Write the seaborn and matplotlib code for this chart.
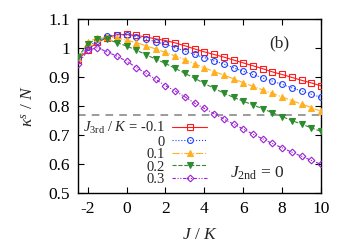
import numpy as np
import pandas as pd
import matplotlib
matplotlib.use("Agg")
import matplotlib.pyplot as plt
import seaborn as sns

# ── data ──────────────────────────────────────────────────────────────────────
j_over_k = [-2.5, -2.0, -1.5, -1.0, -0.5, 0.0, 0.5, 1.0, 1.5, 2.0, 2.5, 3.0, 3.5,
            4.0, 4.5, 5.0, 5.5, 6.0, 6.5, 7.0, 7.5, 8.0, 8.5, 9.0, 9.5, 10.0]

kappa_m01 = [0.959, 0.995, 1.020, 1.036, 1.046, 1.047, 1.044, 1.038, 1.032, 1.026,
             1.018, 1.008, 0.997, 0.987, 0.978, 0.969, 0.959, 0.949, 0.939, 0.929,
             0.918, 0.909, 0.899, 0.889, 0.880, 0.870]
kappa_0 = [0.965, 1.005, 1.026, 1.041, 1.046, 1.045, 1.040, 1.031, 1.022, 1.013,
           1.001, 0.990, 0.978, 0.967, 0.956, 0.945, 0.932, 0.920, 0.909, 0.897,
           0.886, 0.875, 0.863, 0.852, 0.841, 0.830]
kappa_01 = [0.965, 1.020, 1.036, 1.038, 1.035, 1.027, 1.019, 1.008, 0.997, 0.985,
            0.973, 0.960, 0.946, 0.932, 0.919, 0.907, 0.894, 0.881, 0.868, 0.856,
            0.844, 0.831, 0.819, 0.807, 0.795, 0.782]
kappa_02 = [0.970, 1.015, 1.032, 1.030, 1.019, 1.007, 0.993, 0.977, 0.962, 0.947,
            0.930, 0.913, 0.896, 0.878, 0.861, 0.845, 0.830, 0.817, 0.804, 0.791,
            0.777, 0.764, 0.750, 0.738, 0.725, 0.713]
kappa_03 = [0.944, 0.993, 1.001, 0.987, 0.972, 0.955, 0.933, 0.913, 0.892, 0.870,
            0.852, 0.832, 0.810, 0.792, 0.774, 0.755, 0.738, 0.721, 0.703, 0.687,
            0.671, 0.656, 0.641, 0.627, 0.613, 0.599]

j3rd_labels = [r"$J_{\rm 3rd}$ / $K$ = -0.1", "0", "0.1", "0.2", "0.3"]
reference_level = 0.77

# ── styling ───────────────────────────────────────────────────────────────────
sns.set_style("ticks")
plt.rcParams["font.family"] = ["Liberation Serif", "DejaVu Serif"]
plt.rcParams["mathtext.fontset"] = "custom"
plt.rcParams["mathtext.rm"] = "Liberation Serif"
plt.rcParams["mathtext.it"] = "Liberation Serif:italic"
plt.rcParams["axes.unicode_minus"] = False

series = [
    (kappa_m01, "#ff1a1a", "s", "-", "none"),
    (kappa_0, "#1f3fff", "o", ":", "none"),
    (kappa_01, "#ffb020", "^", "-.", None),
    (kappa_02, "#2e8b2e", "v", "--", None),
    (kappa_03, "#9a20d8", "D", (0, (3, 1.5, 1, 1.5, 1, 1.5)), "none"),
]

fig = plt.figure(figsize=(3.5, 2.45), dpi=100)
ax = fig.add_axes([0.223, 0.212, 0.694, 0.710])

ax.axhline(reference_level, color="#808080", lw=1.1, ls=(0, (5, 4)), zorder=1)

for (vals, col, mk, ls, mfc), lab in zip(series, j3rd_labels):
    df = pd.DataFrame({"J": j_over_k, "kappa": vals})
    sns.lineplot(data=df, x="J", y="kappa", ax=ax, color=col, lw=0.8,
                 linestyle=ls, marker=mk, markersize=4.2 if mk != "D" else 3.4,
                 markeredgewidth=0.8, markeredgecolor=col,
                 markerfacecolor=(col if mfc is None else mfc),
                 label=lab, zorder=3)

ax.set_xlim(-2.5, 10)
ax.set_ylim(0.5, 1.1)
ax.set_xticks([-2, 0, 2, 4, 6, 8, 10])
ax.set_yticks([0.5, 0.6, 0.7, 0.8, 0.9, 1.0, 1.1])
ax.yaxis.set_major_formatter(matplotlib.ticker.FormatStrFormatter("%g"))
ax.tick_params(direction="in", length=4, width=0.8, top=True, right=True,
               labelsize=12.5, colors="black", pad=6)
for sp in ax.spines.values():
    sp.set_linewidth(1.0)
    sp.set_color("black")

ax.set_xlabel(r"$J$ / $K$", fontsize=12.5, labelpad=7)
ax.set_ylabel(r"$\kappa^s$ / $N$", fontsize=12.5, labelpad=8)

ax.text(0.83, 0.862, "(b)", transform=ax.transAxes, fontsize=12.5,
        ha="center", va="center")
ax.text(0.74, 0.115, r"$J_{\rm 2nd}$ = 0", transform=ax.transAxes,
        fontsize=12.5, ha="center", va="center")

ax.legend(loc="upper right", bbox_to_anchor=(0.531, 0.42), frameon=False,
          markerfirst=False, fontsize=10.5, handlelength=2.4, handletextpad=0.5,
          labelspacing=-0.05, borderpad=0, borderaxespad=0)

fig.savefig("out.png", dpi=100)
